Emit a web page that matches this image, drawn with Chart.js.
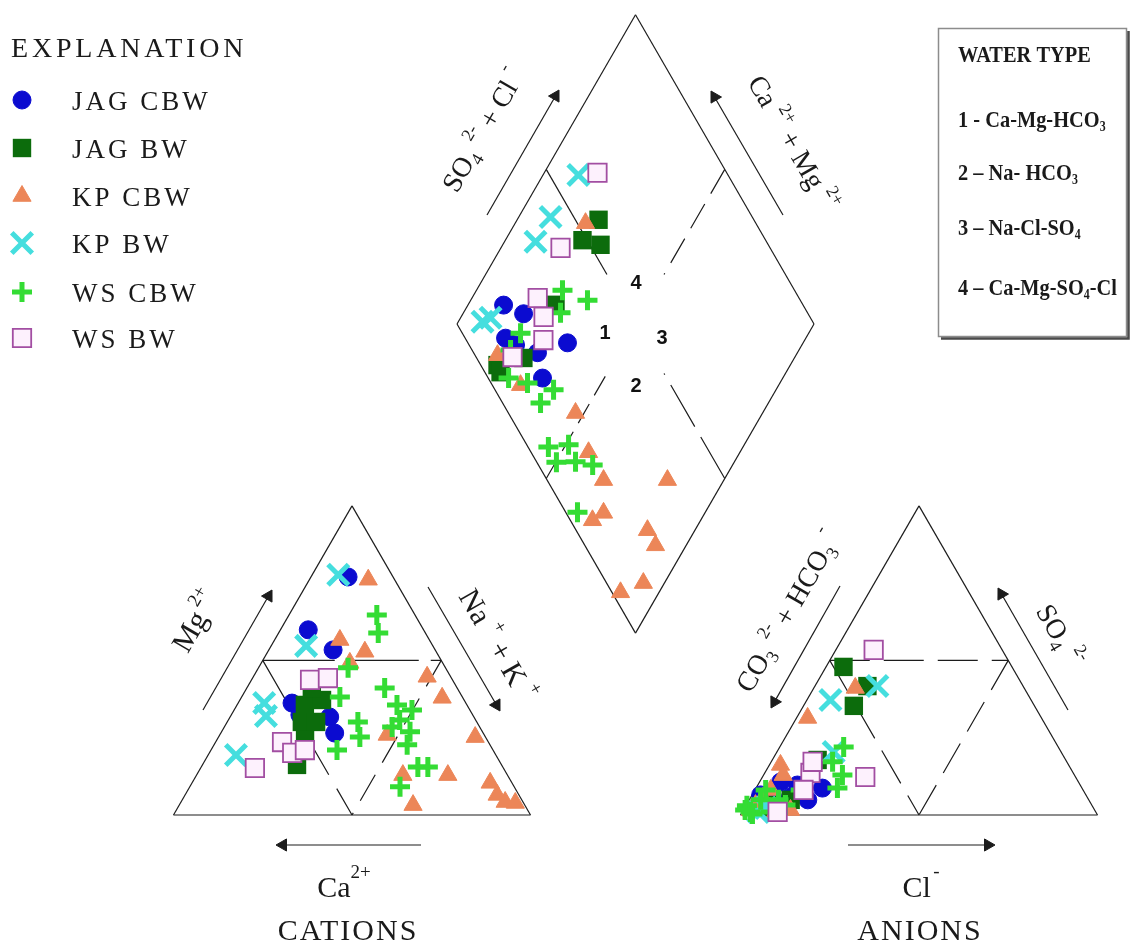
<!DOCTYPE html>
<html>
<head>
<meta charset="UTF-8">
<title>Piper diagram</title>
<style>
  body { margin: 0; background: #fff; }
  canvas { display: block; }
</style>
</head>
<body>
<canvas id="piper" width="1131" height="944"></canvas>
<script src="https://cdn.jsdelivr.net/npm/chart.js"></script>
<script>
// values, in percent
// cation triangle: [Mg, Na+K]   (Ca = the rest)
const jagCbwCat = [[77.0,10.4],[59.9,7.8],[53.4,18.0],[36.2,15.1],[31.7,27.9],[26.5,31.9],[32.4,19.2]];
const jagBwCat  = [[35.6,19.0],[37.2,23.0],[30.1,20.9],[30.1,24.9],[24.3,24.7],[16.2,26.5],[41.1,18.2]];
const kpCbwCat  = [[76.1,16.5],[56.6,18.3],[52.8,27.2],[49.2,24.8],[44.7,48.7],[37.9,56.3],[25.9,46.9],[25.2,71.9],
                   [12.9,57.8],[12.9,70.4],[3.2,65.5],[10.4,83.5],[6.5,87.4],[4.2,90.8],[3.9,93.8]];
const kpBwCat   = [[77.7,7.3],[54.7,9.8],[36.2,7.3],[32.0,9.9],[19.4,7.8]];
const wsCbwCat  = [[64.7,24.6],[58.9,27.9],[38.2,27.5],[30.1,36.6],[21.0,35.3],[41.1,38.6],[35.6,44.8],[34.0,49.8],
                   [30.7,48.0],[28.5,47.0],[26.9,52.8],[22.7,54.1],[15.5,60.7],[15.5,63.5],[9.1,58.9],[47.6,25.1],[25.2,39.6]];
const wsBwCat   = [[43.7,16.4],[44.3,21.1],[23.6,18.6],[20.1,23.2],[21.0,26.3],[15.2,15.2]];

// anion triangle: [SO4, Cl]   (CO3+HCO3 = the rest)
const jagCbwAn = [[10.7,5.9],[9.7,11.1],[8.7,18.6],[5.8,11.1],[4.9,16.4],[4.9,6.0],[6.5,2.4]];
const jagBwAn  = [[47.9,4.9],[41.7,14.7],[35.3,14.1],[17.8,12.7],[4.9,11.6],[3.2,6.8],[2.3,4.5]];
const kpCbwAn  = [[41.1,11.6],[31.4,3.1],[16.2,3.1],[12.9,5.5],[8.1,4.4],[3.2,2.6],[1.6,13.2],[1.0,9.3],[1.6,2.0],[5.5,3.5]];
const kpBwAn   = [[37.2,6.6],[41.7,17.5],[20.4,15.9],[2.3,5.9],[1.0,4.5]];
const wsCbwAn  = [[22.0,17.9],[17.2,17.2],[12.9,22.1],[8.7,22.8],[4.9,3.2],[1.0,2.3],[1.0,7.9],[3.0,0.3],
                  [3.2,11.0],[8.1,3.0],[0.3,3.2],[4.9,8.2],[1.6,0.5],[8.1,12.8]];
const wsBwAn   = [[53.4,10.6],[13.6,12.8],[8.1,13.6],[12.3,28.8],[1.0,9.9],[17.2,11.6]];

// diamond: [SO4+Cl, Ca+Mg]
const jagCbwDia = [[16.1,90.0],[20.3,83.0],[27.9,66.0],[17.9,72.8],[15.2,67.3],[11.3,84.1],[13.0,80.2]];
const jagBwDia  = [[56.5,77.2],[48.7,78.4],[53.0,72.6],[30.7,75.5],[4.7,82.0],[13.1,75.9],[4.4,80.0]];
const kpCbwDia  = [[52.3,80.3],[6.3,83.6],[7.9,72.3],[18.8,52.4],[16.1,42.4],[15.8,33.7],[33.7,15.8],
                   [10.5,28.4],[6.2,30.3],[20.0,13.3],[19.8,8.6],[10.3,5.9],[2.4,10.8]];
const kpBwDia   = [[58.1,90.1],[43.5,91.1],[35.3,91.3],[7.5,93.2],[10.4,91.6]];
const wsCbwDia  = [[35.0,75.9],[40.4,67.3],[30.8,72.8],[16.3,80.7],[10.8,80.8],[5.7,76.8],[10.2,70.7],[16.4,62.3],
                   [10.6,63.8],[5.7,54.5],[11.7,49.2],[5.5,49.8],[10.9,44.5],[15.2,39.2],[3.3,35.8]];
const wsBwDia   = [[63.8,85.1],[41.3,83.3],[26.8,81.6],[25.4,76.9],[21.6,73.2],[10.2,79.1]];

const seriesNames = ['JAG CBW', 'JAG BW', 'KP CBW', 'KP BW', 'WS CBW', 'WS BW'];
const waterTypes = ['1 - Ca-Mg-HCO', '2 \u2013 Na- HCO', '3 \u2013 Na-Cl-SO', '4 \u2013 Ca-Mg-SO'];

// ---- layout of the piper frame (in canvas units) ----
const SIDE = 357, GAP = 210, X0 = 173.5, BASE = 815;
const H = SIDE * Math.sqrt(3) / 2;
const AX0 = X0 + SIDE + GAP;
const DBX = X0 + SIDE + GAP / 2, DBY = BASE - GAP * Math.sqrt(3) / 2;

function cat(p) { return { x: X0 + (p[1] + p[0] / 2) / 100 * SIDE, y: BASE - p[0] / 100 * H }; }
function an(p)  { return { x: AX0 + (p[1] + p[0] / 2) / 100 * SIDE, y: BASE - p[0] / 100 * H }; }
function dia(p) { return { x: DBX + (p[0] - p[1]) / 200 * SIDE, y: DBY - (p[0] + p[1]) / 100 * H }; }
function lerp(a, b, t) { return { x: a.x + (b.x - a.x) * t, y: a.y + (b.y - a.y) * t }; }

const INK = '#1c1c1c';
const segs = [];
function seg(a, b, dash) { segs.push({ a: a, b: b, dash: dash || [] }); }

// cation triangle
seg(cat([0,0]), cat([0,100])); seg(cat([0,100]), cat([100,0])); seg(cat([100,0]), cat([0,0]));
seg(cat([50,0]), cat([50,50]), [72, 12]);
seg(cat([50,0]), cat([0,50]), [132, 16]);
seg(cat([50,50]), cat([0,50]), [30, 14]);
// anion triangle
seg(an([0,0]), an([0,100])); seg(an([0,100]), an([100,0])); seg(an([100,0]), an([0,0]));
seg(an([50,0]), an([50,50]), [40, 14]);
seg(an([50,0]), an([0,50]), [38, 14]);
seg(an([50,50]), an([0,50]), [34, 14]);
// diamond
seg(dia([0,0]), dia([100,0])); seg(dia([100,0]), dia([100,100]));
seg(dia([100,100]), dia([0,100])); seg(dia([0,100]), dia([0,0]));
const ctr = dia([50,50]);
seg(dia([50,100]), lerp(dia([50,100]), ctr, 0.68));
seg(dia([100,50]), lerp(dia([100,50]), ctr, 0.68), [28, 12]);
seg(dia([0,50]), lerp(dia([0,50]), ctr, 0.68), [22, 10]);
seg(dia([50,0]), lerp(dia([50,0]), ctr, 0.68), [48, 12]);

// axis arrows: [tail, tip]
const arrows = [
  [[487,215],[559,90]], [[783,215],[711,91]],
  [[203,710],[272,590]], [[428,587],[500,711]],
  [[840,586],[771,708]], [[1068,710],[998,588]],
  [[421,845],[276,845]], [[848,845],[995,845]]
];
const HEAD = 7;
const heads = [], headRot = [];
arrows.forEach(a => {
  const dx = a[1][0] - a[0][0], dy = a[1][1] - a[0][1], L = Math.hypot(dx, dy);
  const ux = dx / L, uy = dy / L;
  const c = { x: a[1][0] - ux * HEAD, y: a[1][1] - uy * HEAD };
  heads.push(c);
  headRot.push(Math.atan2(ux, -uy) * 180 / Math.PI);
  segs.push({ a: { x: a[0][0], y: a[0][1] }, b: c, dash: [] });
});

const datasets = segs.map(s => ({
  data: [s.a, s.b], showLine: true, pointRadius: 0, borderColor: INK,
  borderWidth: 1.2, borderDash: s.dash, order: 20
}));
datasets.push({
  data: heads, pointStyle: 'triangle', pointRadius: HEAD, pointRotation: headRot,
  backgroundColor: INK, borderColor: INK, borderWidth: 1, order: 19
});

const seriesStyles = [
  { pointStyle: 'circle',   pointRadius: 9,    backgroundColor: '#0b0bd0', borderColor: '#0b0bd0', borderWidth: 1 },
  { pointStyle: 'rect',     pointRadius: 13,   backgroundColor: '#0c6c0c', borderColor: '#0c6c0c', borderWidth: 0 },
  { pointStyle: 'triangle', pointRadius: 10.5, backgroundColor: '#ec8658', borderColor: '#ec8658', borderWidth: 1 },
  { pointStyle: 'crossRot', pointRadius: 14.5, backgroundColor: '#45dede', borderColor: '#45dede', borderWidth: 5 },
  { pointStyle: 'cross',    pointRadius: 10,   backgroundColor: '#34dc34', borderColor: '#34dc34', borderWidth: 5 },
  { pointStyle: 'rect',     pointRadius: 13,   backgroundColor: '#fdf1fd', borderColor: '#a24ea2', borderWidth: 1.8 }
];
const catSets = [jagCbwCat, jagBwCat, kpCbwCat, kpBwCat, wsCbwCat, wsBwCat];
const anSets  = [jagCbwAn, jagBwAn, kpCbwAn, kpBwAn, wsCbwAn, wsBwAn];
const diaSets = [jagCbwDia, jagBwDia, kpCbwDia, kpBwDia, wsCbwDia, wsBwDia];

seriesNames.forEach((name, i) => {
  datasets.push(Object.assign({
    label: name,
    data: catSets[i].map(cat).concat(anSets[i].map(an), diaSets[i].map(dia)),
    order: 5 - i
  }, seriesStyles[i]));
});

// ---- text helpers ----
const SERIF = '"Liberation Serif", "Times New Roman", serif';
function drawRuns(ctx, parts, x, y, rot, o) {
  o = o || {};
  ctx.save();
  ctx.translate(x, y);
  ctx.rotate((rot || 0) * Math.PI / 180);
  if (o.sx) ctx.scale(o.sx, 1);
  ctx.fillStyle = o.color || '#1a1a1a';
  ctx.textBaseline = 'alphabetic';
  ctx.textAlign = 'left';
  if (o.spacing) ctx.letterSpacing = o.spacing + 'px';
  const fam = o.family || SERIF;
  const wt = o.bold ? 'bold ' : '';
  let total = 0;
  const w = parts.map(p => { ctx.font = wt + p[1] + 'px ' + fam; const m = ctx.measureText(p[0]).width; total += m; return m; });
  let cx = o.align === 'left' ? 0 : -total / 2;
  parts.forEach((p, i) => { ctx.font = wt + p[1] + 'px ' + fam; ctx.fillText(p[0], cx, p[2] || 0); cx += w[i]; });
  ctx.restore();
}

const axisLabels = [
  { at: [491,135], rot: -60, parts: [['SO',28],['4',18,6],['  ',14],['2-',18,-14],[' + Cl',28],['  ',14],['-',18,-17]] },
  { at: [785,148], rot: 60,  parts: [['Ca',28],['  ',14],['2+',18,-14],[' + Mg',28],['  ',14],['2+',18,-14]] },
  { at: [204,626], rot: -60, parts: [['Mg',30],[' ',14],['2+',19,-15]] },
  { at: [489,650], rot: 60,  parts: [['Na',30],['  ',14],['+',19,-15],[' + K',30],['  ',14],['+',19,-15]] },
  { at: [796,616], rot: -60, parts: [['CO',28],['3',18,6],['  ',14],['2-',18,-14],[' + HCO',28],['3',18,6],['  ',14],['-',18,-17]] },
  { at: [1052,640], rot: 60, parts: [['SO',28],['4',18,6],['  ',14],['2-',18,-14]] }
];
const zoneLabels = [['4', 636, 283], ['1', 605, 333], ['3', 662, 338], ['2', 636, 386]];

const textPlugin = {
  id: 'piperText',
  afterDraw(chart) {
    const ctx = chart.ctx;
    // rotated axis titles
    axisLabels.forEach(l => drawRuns(ctx, l.parts, l.at[0], l.at[1], l.rot));
    // bottom titles
    drawRuns(ctx, [['Ca',30],['2+',19,-19]], 344, 897, 0);
    drawRuns(ctx, [['CATIONS',30]], 348, 940, 0, { spacing: 2 });
    drawRuns(ctx, [['Cl',30],[' ',10],['-',19,-20]], 921, 897, 0);
    drawRuns(ctx, [['ANIONS',30]], 920, 940, 0, { spacing: 2 });
    // zone numbers
    ctx.save();
    ctx.fillStyle = '#111';
    ctx.font = 'bold 20px "Liberation Sans", Arial, sans-serif';
    ctx.textAlign = 'center';
    ctx.textBaseline = 'middle';
    zoneLabels.forEach(z => ctx.fillText(z[0], z[1], z[2]));
    ctx.restore();

    // explanation legend
    drawRuns(ctx, [['EXPLANATION',28]], 11, 57, 0, { align: 'left', spacing: 3.8 });
    const ly = [100, 148, 196, 243, 292, 338];
    seriesNames.forEach((name, i) => {
      const st = seriesStyles[i];
      ctx.save();
      ctx.fillStyle = st.backgroundColor;
      ctx.strokeStyle = st.borderColor;
      ctx.lineWidth = st.borderWidth;
      Chart.helpers.drawPoint(ctx, { pointStyle: st.pointStyle, radius: st.pointRadius, rotation: 0, borderWidth: st.borderWidth }, 22, ly[i]);
      ctx.restore();
      drawRuns(ctx, [[name,27]], 72, ly[i] + 9.5, 0, { align: 'left', spacing: 3 });
    });

    // water type box
    ctx.save();
    ctx.strokeStyle = '#8c8c8c';
    ctx.lineWidth = 1.5;
    ctx.strokeRect(938.5, 28.5, 188, 308);
    ctx.strokeStyle = '#4a4a4a';
    ctx.lineWidth = 2.5;
    ctx.beginPath();
    ctx.moveTo(941, 338.5); ctx.lineTo(1128.5, 338.5); ctx.lineTo(1128.5, 31);
    ctx.stroke();
    ctx.restore();
    const bx = { align: 'left', bold: true, sx: 0.85 };
    drawRuns(ctx, [['WATER TYPE',24]], 958, 62, 0, bx);
    const subs = ['3', '3', '4', '4'];
    const wy = [127, 180, 235, 295];
    waterTypes.forEach((t, i) => {
      const parts = [[t,24],[subs[i],14,4]];
      if (i === 3) parts.push(['-Cl',24]);
      drawRuns(ctx, parts, 958, wy[i], 0, bx);
    });
  }
};

new Chart(document.getElementById('piper'), {
  type: 'scatter',
  data: { datasets: datasets },
  options: {
    responsive: false,
    animation: false,
    events: [],
    layout: { autoPadding: false, padding: 0 },
    scales: {
      x: { type: 'linear', min: 0, max: 1131, display: false },
      y: { type: 'linear', min: 0, max: 944, reverse: true, display: false }
    },
    plugins: { legend: { display: false }, tooltip: { enabled: false } }
  },
  plugins: [textPlugin]
});
</script>
</body>
</html>
